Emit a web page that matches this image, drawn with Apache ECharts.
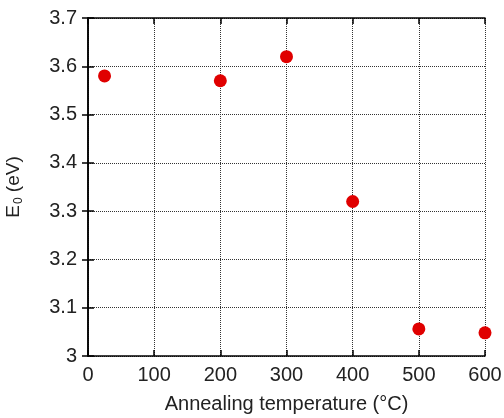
<!DOCTYPE html>
<html>
<head>
<meta charset="utf-8">
<script src="https://cdn.jsdelivr.net/npm/echarts@6/dist/echarts.min.js"></script>
<style>
  html, body { margin: 0; padding: 0; background: #fff; }
  #main { width: 504px; height: 418px; }
</style>
</head>
<body>
<div id="main"></div>
<script>
var chart = echarts.init(document.getElementById("main"));

// annealing temperature (C) and E0 (eV)
let temps = [25, 200, 300, 400, 500, 600];
let e0 = [3.58, 3.57, 3.62, 3.32, 3.056, 3.048];

let pts = temps.map((t, i) => [t, e0[i]]);

let font = "Liberation Sans, Arial, sans-serif";
let axisLine = { show: true, lineStyle: { color: "#000", width: 1.5 } };
let tick = { show: true, inside: true, length: 6, lineStyle: { color: "#000", width: 1.5 } };
let grid = { show: true, lineStyle: { color: "#333", type: [1, 1], width: 1 } };

chart.setOption({
  animation: false,
  grid: { left: 88, right: 19, top: 18, bottom: 62, outerBoundsMode: "none", containLabel: false },
  xAxis: [
    {
      type: "value", min: 0, max: 600, interval: 100,
      name: "Annealing temperature (\u00b0C)",
      nameLocation: "middle", nameGap: 38,
      nameTextStyle: { fontFamily: font, fontSize: 20, color: "#222" },
      axisLine: axisLine, axisTick: tick, splitLine: grid,
      axisLabel: { fontFamily: font, fontSize: 20, color: "#222", margin: 9 }
    },
    {
      type: "value", position: "top", min: 0, max: 600, interval: 100,
      axisLine: axisLine, axisTick: tick, splitLine: { show: false },
      axisLabel: { show: false }
    }
  ],
  yAxis: [
    {
      type: "value", min: 3, max: 3.7, interval: 0.1,
      name: "{a|E}{s|0}{a| (eV)}",
      nameLocation: "middle", nameGap: 63, nameRotate: 90,
      nameTextStyle: {
        rich: {
          a: { fontFamily: font, fontSize: 19, color: "#222", lineHeight: 22 },
          s: { fontFamily: font, fontSize: 12, color: "#222", verticalAlign: "bottom", lineHeight: 22, padding: [9, 0, 0, 1] }
        }
      },
      axisLine: axisLine, axisTick: tick, splitLine: grid,
      axisLabel: {
        fontFamily: font, fontSize: 20, color: "#222", margin: 11,
        formatter: v => (Math.round(v * 10) / 10).toString()
      }
    },
    {
      type: "value", position: "right", min: 3, max: 3.7, interval: 0.1,
      axisLine: axisLine, axisTick: tick, splitLine: { show: false },
      axisLabel: { show: false }
    }
  ],
  series: [
    {
      type: "scatter",
      data: pts,
      symbolSize: 13,
      itemStyle: { color: "#e00000", opacity: 1 }
    }
  ]
});
</script>
</body>
</html>
